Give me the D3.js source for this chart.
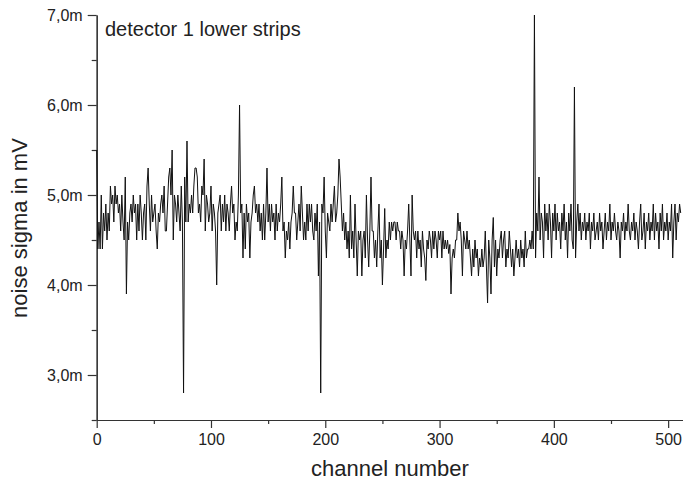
<!DOCTYPE html>
<html>
<head>
<meta charset="utf-8">
<script src="https://cdn.jsdelivr.net/npm/d3@7"></script>
<style>
  body { margin: 0; background: #fff; }
  svg { display: block; font-family: "Liberation Sans", Arial, sans-serif; }
</style>
</head>
<body>
<div id="chart"></div>
<script>
// noise sigma per channel (mV), channels 0..511
var sigma = [
  5.5, 4.4, 4.7, 4.4, 5.0, 4.4, 4.8, 4.6, 4.9, 4.5, 4.8, 4.6, 5.1, 4.9, 5.0, 4.7,
  5.1, 4.9, 5.0, 4.8, 4.9, 4.6, 5.0, 4.7, 4.5, 5.2, 3.9, 4.7, 4.5, 4.8, 4.9, 4.7,
  5.0, 4.8, 4.9, 4.5, 4.9, 4.6, 5.0, 4.8, 4.5, 4.8, 4.9, 4.5, 5.1, 5.3, 4.9, 4.6,
  5.0, 4.7, 4.8, 4.9, 4.6, 4.4, 4.8, 4.7, 4.9, 5.0, 4.8, 5.1, 4.6, 4.6, 4.9, 5.2,
  5.3, 5.0, 5.5, 4.5, 5.0, 4.9, 4.7, 5.0, 4.8, 4.6, 5.1, 4.7, 2.8, 5.2, 4.7, 5.6,
  4.7, 4.9, 4.8, 5.0, 4.8, 5.1, 5.3, 5.3, 5.2, 4.8, 4.9, 4.7, 5.1, 5.0, 5.4, 4.6,
  5.0, 4.9, 4.7, 4.8, 5.1, 4.6, 4.9, 4.8, 4.6, 4.0, 4.8, 4.9, 5.0, 4.6, 4.9, 4.7,
  5.0, 4.6, 4.9, 4.8, 4.6, 4.9, 5.1, 4.8, 4.9, 4.5, 4.7, 4.6, 5.0, 6.0, 4.8, 4.9,
  4.3, 4.8, 4.4, 4.9, 4.7, 4.8, 4.3, 4.7, 4.8, 5.0, 5.1, 4.8, 4.9, 4.7, 4.9, 4.6,
  4.8, 4.5, 4.9, 4.5, 4.8, 5.3, 4.7, 4.9, 4.6, 4.9, 4.7, 4.8, 4.5, 4.9, 4.6, 4.8,
  4.7, 4.9, 5.2, 4.6, 4.7, 4.3, 4.6, 4.5, 4.7, 4.4, 4.7, 4.8, 5.1, 4.8, 4.8, 4.5,
  4.7, 4.9, 4.6, 5.1, 4.8, 4.5, 4.7, 4.5, 4.9, 4.6, 4.9, 4.7, 4.9, 4.6, 4.5, 4.8,
  4.6, 4.9, 4.1, 4.7, 2.8, 4.9, 4.8, 5.2, 4.6, 4.3, 4.8, 4.7, 4.6, 4.9, 4.7, 4.9,
  5.1, 4.7, 4.8, 5.0, 5.4, 5.2, 4.9, 4.6, 4.8, 4.5, 4.7, 4.4, 4.6, 4.3, 5.0, 4.4,
  4.6, 4.3, 4.9, 4.5, 4.1, 4.6, 4.5, 4.6, 4.1, 4.5, 4.6, 4.3, 5.0, 4.5, 4.2, 4.6,
  5.2, 4.6, 4.6, 4.3, 4.5, 4.2, 4.6, 4.9, 4.3, 4.5, 4.0, 4.4, 4.85, 4.3, 4.5, 4.4,
  4.7, 4.5, 4.7, 4.6, 4.7, 4.7, 4.5, 4.7, 4.6, 4.6, 4.4, 4.6, 4.5, 4.1, 4.5, 4.4,
  4.6, 4.9, 4.5, 4.1, 5.0, 4.6, 4.5, 4.6, 4.3, 4.6, 4.4, 4.5, 4.2, 4.6, 4.4, 4.3,
  4.05, 4.5, 4.4, 4.6, 4.5, 4.3, 4.6, 4.4, 4.6, 4.5, 4.3, 4.6, 4.5, 4.6, 4.3, 4.6,
  4.4, 4.5, 4.4, 4.5, 4.35, 4.45, 3.9, 4.3, 4.4, 4.3, 4.5, 4.5, 4.8, 4.6, 4.7, 4.5,
  4.1, 4.6, 4.5, 4.4, 4.6, 4.4, 4.5, 4.3, 4.1, 4.4, 4.2, 4.5, 4.3, 4.4, 4.1, 4.3,
  4.2, 4.4, 4.2, 4.3, 4.6, 4.2, 3.8, 4.5, 4.3, 3.9, 4.5, 4.75, 4.2, 4.5, 4.1, 4.4,
  4.3, 4.5, 4.6, 4.3, 4.5, 4.6, 4.2, 4.4, 4.3, 4.6, 4.4, 4.2, 4.4, 4.1, 4.3, 4.5,
  4.3, 4.4, 4.2, 4.5, 4.3, 4.4, 4.2, 4.6, 4.3, 4.4, 4.4, 4.5, 4.4, 4.6, 4.4, 7.0,
  4.3, 4.8, 4.6, 5.2, 4.5, 4.8, 4.7, 4.3, 4.9, 4.6, 4.8, 4.5, 4.9, 4.7, 4.3, 4.8,
  4.6, 4.9, 4.5, 4.8, 4.6, 4.7, 4.4, 4.8, 4.6, 4.9, 4.5, 4.7, 4.3, 4.8, 4.6, 4.9,
  4.5, 4.4, 6.2, 4.3, 4.7, 4.9, 4.6, 4.8, 4.5, 4.7, 4.6, 4.8, 4.5, 4.7, 4.6, 4.8,
  4.4, 4.7, 4.6, 4.8, 4.5, 4.6, 4.7, 4.5, 4.8, 4.6, 4.7, 4.4, 4.6, 4.8, 4.5, 4.7,
  4.6, 4.9, 4.5, 4.7, 4.6, 4.8, 4.6, 4.5, 4.7, 4.6, 4.3, 4.7, 4.6, 4.8, 4.5, 4.7,
  4.6, 4.9, 4.6, 4.5, 4.7, 4.6, 4.8, 4.5, 4.7, 4.6, 4.4, 4.7, 4.9, 4.5, 4.6, 4.8,
  4.4, 4.7, 4.6, 4.8, 4.5, 4.7, 4.6, 4.9, 4.5, 4.8, 4.6, 4.7, 4.4, 4.8, 4.6, 4.9,
  4.5, 4.7, 4.6, 4.8, 4.5, 4.7, 4.6, 4.9, 4.3, 4.7, 4.9, 4.5, 4.8, 4.7, 4.9, 4.8
];

var xTicks = [0, 100, 200, 300, 400, 500];
var xMinor = [50, 150, 250, 350, 450];
var yTicks = [3, 4, 5, 6, 7];
var yMinor = [2.5, 3.5, 4.5, 5.5, 6.5];

var width = 683, height = 485;

var svg = d3.select("#chart").append("svg")
    .attr("width", width)
    .attr("height", height);

var x = d3.scaleLinear().domain([0, 513]).range([96.7, 683]);
var y = d3.scaleLinear().domain([2.5, 7.0]).range([420, 15]);

var fmt = function(d) { return d.toFixed(1).replace(".", ",") + "m"; };

// minor ticks first, majors on top
svg.append("g")
    .attr("transform", "translate(96.7,0)")
    .call(d3.axisLeft(y).tickValues(yMinor).tickFormat("").tickSize(5).tickSizeOuter(0));
svg.append("g")
    .attr("class", "yaxis")
    .attr("transform", "translate(96.7,0)")
    .call(d3.axisLeft(y).tickValues(yTicks).tickFormat(fmt).tickSize(9).tickPadding(5).tickSizeOuter(0));

svg.append("g")
    .attr("transform", "translate(0,420)")
    .call(d3.axisBottom(x).tickValues(xMinor).tickFormat("").tickSize(4).tickSizeOuter(0));
svg.append("g")
    .attr("class", "xaxis")
    .attr("transform", "translate(0,420)")
    .call(d3.axisBottom(x).tickValues(xTicks).tickFormat(d3.format("d")).tickSize(8).tickPadding(6).tickSizeOuter(0));

svg.selectAll(".domain, .tick line").attr("stroke", "#333").attr("stroke-width", 1.2);
svg.selectAll(".tick text")
    .attr("fill", "#222")
    .style("font-size", "16px")
    .style("font-family", "Liberation Sans, Arial, sans-serif");

// the data line
var line = d3.line()
    .x(function(d, i) { return x(i); })
    .y(function(d) { return y(d); });

svg.append("path")
    .datum(sigma)
    .attr("d", line)
    .attr("fill", "none")
    .attr("stroke", "#111")
    .attr("stroke-width", 1);

// labels
svg.append("text")
    .attr("x", 105)
    .attr("y", 36)
    .attr("fill", "#222")
    .style("font-size", "20px")
    .text("detector 1 lower strips");

svg.append("text")
    .attr("x", 390)
    .attr("y", 476)
    .attr("text-anchor", "middle")
    .attr("fill", "#222")
    .style("font-size", "22px")
    .text("channel number");

svg.append("text")
    .attr("transform", "translate(27,228) rotate(-90)")
    .attr("text-anchor", "middle")
    .attr("fill", "#222")
    .style("font-size", "22px")
    .text("noise sigma in mV");
</script>
</body>
</html>
